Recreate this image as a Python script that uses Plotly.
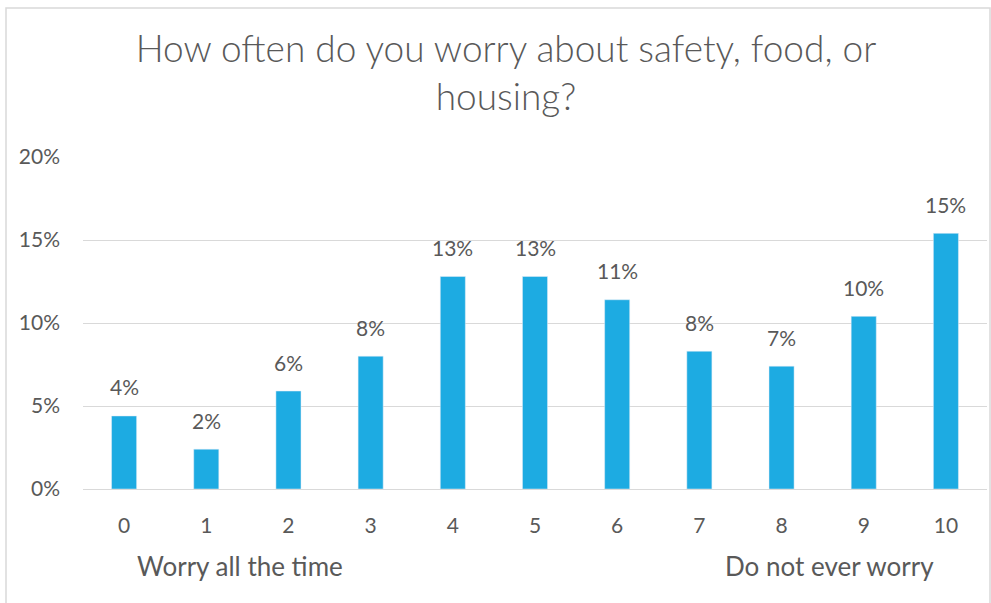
import plotly.graph_objects as go

categories = ["0", "1", "2", "3", "4", "5", "6", "7", "8", "9", "10"]
values = [0.044, 0.024, 0.059, 0.080, 0.128, 0.128, 0.114, 0.083, 0.074, 0.104, 0.154]
y_ticks = [0, 0.05, 0.10, 0.15, 0.20]
y_tick_labels = ["0%", "5%", "10%", "15%", "20%"]
title_text = "How often do you worry about safety, food, or<br>housing?"
left_note = "Worry all the time"
right_note = "Do not ever worry"

BAR = "#1DABE2"
TXT = "#595959"
GRID = "#d9d9d9"
FONT = "Lato, Calibri, Carlito, sans-serif"

W, H = 991, 603
ML, MR, MT, MB = 83, 4, 157, 114
pw = W - ML - MR
ph = H - MT - MB

fig = go.Figure(go.Bar(
    x=categories, y=values, marker_color=BAR, width=0.305,
    hoverinfo="x+y",
))

annotations = []
for c, v in zip(categories, values):
    annotations.append(dict(
        x=c, y=v, xref="x", yref="y", text=f"{round(v*100):.0f}%",
        showarrow=False, yshift=29, font=dict(size=21, color=TXT, family=FONT),
    ))
annotations.append(dict(x=categories[0], y=0, xref="x", yref="y", text=left_note,
                        showarrow=False, xanchor="left", xshift=11, yshift=-77,
                        font=dict(size=26, color=TXT, family=FONT)))
annotations.append(dict(x=categories[-1], y=0, xref="x", yref="y", text=right_note,
                        showarrow=False, xanchor="right", xshift=-10, yshift=-77,
                        font=dict(size=26, color=TXT, family=FONT)))

fig.update_layout(
    width=W, height=H,
    margin=dict(l=ML, r=MR, t=MT, b=MB, pad=0),
    paper_bgcolor="white", plot_bgcolor="white",
    font=dict(family=FONT, color=TXT, size=21),
    title=dict(text=title_text, x=506 / W, xanchor="center", y=1 - 62 / H, yanchor="top",
               font=dict(size=37, color=TXT, family=FONT, weight=300)),
    showlegend=False,
    bargap=0.7,
    xaxis=dict(type="category", showgrid=False, showline=False, ticks="",
               tickfont=dict(size=21, color=TXT), ticklabelstandoff=22, fixedrange=True),
    yaxis=dict(range=[0, 0.2], tickvals=y_ticks, ticktext=y_tick_labels, showgrid=True,
               gridcolor=GRID, gridwidth=1, zeroline=True, zerolinecolor=GRID, zerolinewidth=1,
               showline=False, ticks="", tickfont=dict(size=21, color=TXT), ticklabelstandoff=22,
               fixedrange=True),
    annotations=annotations,
    shapes=[dict(type="rect", xref="paper", yref="paper",
                 x0=(6 - ML) / pw, x1=(990 - ML) / pw,
                 y0=(H - MB - 700) / ph, y1=(H - MB - 8) / ph,
                 line=dict(color=GRID, width=1.5), fillcolor="rgba(0,0,0,0)", layer="below")],
)

fig.write_html("out.html", config={"displayModeBar": False},
               post_script="document.body.style.margin='0';document.body.style.overflow='hidden';")
